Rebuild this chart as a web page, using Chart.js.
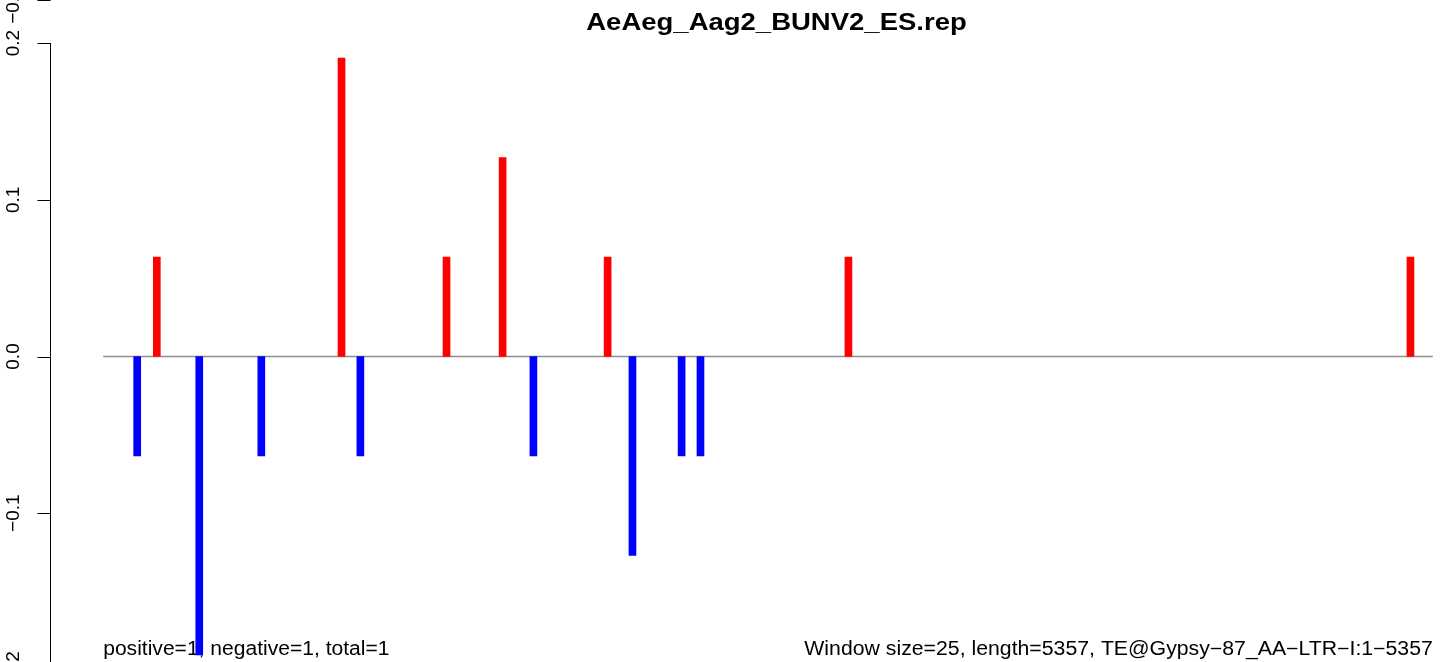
<!DOCTYPE html>
<html><head><meta charset="utf-8">
<script src="https://cdn.jsdelivr.net/npm/chart.js@4"></script>
<style>
html,body{margin:0;padding:0;overflow:hidden;background:#fff;width:1444px;height:662px}
#wrap{position:absolute;left:0;top:0;width:1510px;height:700px}
</style></head>
<body><div id="wrap"><canvas id="c" width="1510" height="700"></canvas></div>
<script>
const chartTitle = "AeAeg_Aag2_BUNV2_ES.rep";
const seqLength = 5357;
const windowSize = 25;
const teLabel = "TE@Gypsy\u221287_AA\u2212LTR\u2212I";
const footLeft = "positive=1, negative=1, total=1";
const posPositions = [217, 961, 1384, 1610, 2033, 3003, 5267];
const posValues    = [0.0635, 0.1905, 0.0635, 0.127, 0.0635, 0.0635, 0.0635];
const negPositions = [138, 388, 638, 1037, 1734, 2133, 2331, 2407];
const negValues    = [-0.0635, -0.1905, -0.0635, -0.0635, -0.0635, -0.127, -0.0635, -0.0635];
const yTicks = [-0.2, -0.1, 0, 0.1, 0.2];

const FONT = '"Liberation Sans", Arial, Helvetica, sans-serif';
function fmt(v){ const s = Math.abs(v).toFixed(1); return v < 0 ? '\u2212' + s : s; }
function stretchText(ctx, text, x, y, sx){
  ctx.save(); ctx.translate(x, y); ctx.scale(sx, 1); ctx.fillText(text, 0, 0); ctx.restore();
}

const decor = {
  id: 'decor',
  beforeDatasetsDraw(chart){
    const ctx = chart.ctx, ca = chart.chartArea, ys = chart.scales.y, xs = chart.scales.x;
    ctx.save();
    ctx.strokeStyle = '#000'; ctx.fillStyle = '#000'; ctx.lineWidth = 1;
    const ax = Math.round(ca.left) + 0.5;
    ctx.beginPath();
    ctx.moveTo(ax, ys.getPixelForValue(yTicks[yTicks.length-1]));
    ctx.lineTo(ax, ys.getPixelForValue(yTicks[0]));
    ctx.stroke();
    ctx.font = '19px ' + FONT;
    ctx.textAlign = 'center'; ctx.textBaseline = 'middle';
    const drawTick = (py, label, ly) => {
      ctx.beginPath(); ctx.moveTo(ax - 13, Math.round(py)+0.5); ctx.lineTo(ax, Math.round(py)+0.5); ctx.stroke();
      ctx.save(); ctx.translate(ax - 37, ly === undefined ? py : ly); ctx.rotate(-Math.PI/2); ctx.fillText(label, 0, 0); ctx.restore();
    };
    yTicks.forEach(v => drawTick(ys.getPixelForValue(v), fmt(v)));
    // remnant of the panel above (its lowest tick)
    const topPx = ys.getPixelForValue(yTicks[yTicks.length-1]);
    drawTick(topPx - 43, fmt(yTicks[0]), topPx - 38);
    // title
    ctx.font = 'bold 23.5px ' + FONT;
    ctx.textBaseline = 'alphabetic';
    stretchText(ctx, chartTitle, (ca.left + ca.right)/2 + 8.5, 29.5, 1.17);
    // footers
    ctx.font = '19.5px ' + FONT;
    ctx.textAlign = 'left';
    stretchText(ctx, footLeft, xs.getPixelForValue(1), 655, 1.08);
    ctx.textAlign = 'right';
    stretchText(ctx, 'Window size=' + windowSize + ', length=' + seqLength + ', ' + teLabel + ':1\u2212' + seqLength, xs.getPixelForValue(seqLength), 655, 1.09);
    ctx.restore();
  }
};

const ext = 0.04 * (seqLength - 1);
new Chart(document.getElementById('c'), {
  type: 'bar',
  data: { datasets: [
    { label: 'positive', data: posPositions.map((x,i)=>({x, y: posValues[i]})), backgroundColor: '#ff0000', barThickness: 7, grouped: false, order: 1 },
    { label: 'negative', data: negPositions.map((x,i)=>({x, y: negValues[i]})), backgroundColor: '#0000ff', barThickness: 7, grouped: false, order: 1 },
    { type: 'line', label: 'zero', data: [{x:1,y:0},{x:seqLength,y:0}], borderColor: '#8f8f8f', borderWidth: 1.4, pointRadius: 0, order: 2 }
  ]},
  options: {
    responsive: false, animation: false, devicePixelRatio: 1,
    layout: { padding: { left: 50, top: 18, right: 24, bottom: 5 } },
    plugins: { legend: { display: false }, tooltip: { enabled: false }, title: { display: false } },
    scales: {
      x: { type: 'linear', offset: false, min: 1 - ext, max: seqLength + ext, display: false },
      y: { min: -0.216, max: 0.216, display: false }
    }
  },
  plugins: [decor]
});
</script>
</body></html>
